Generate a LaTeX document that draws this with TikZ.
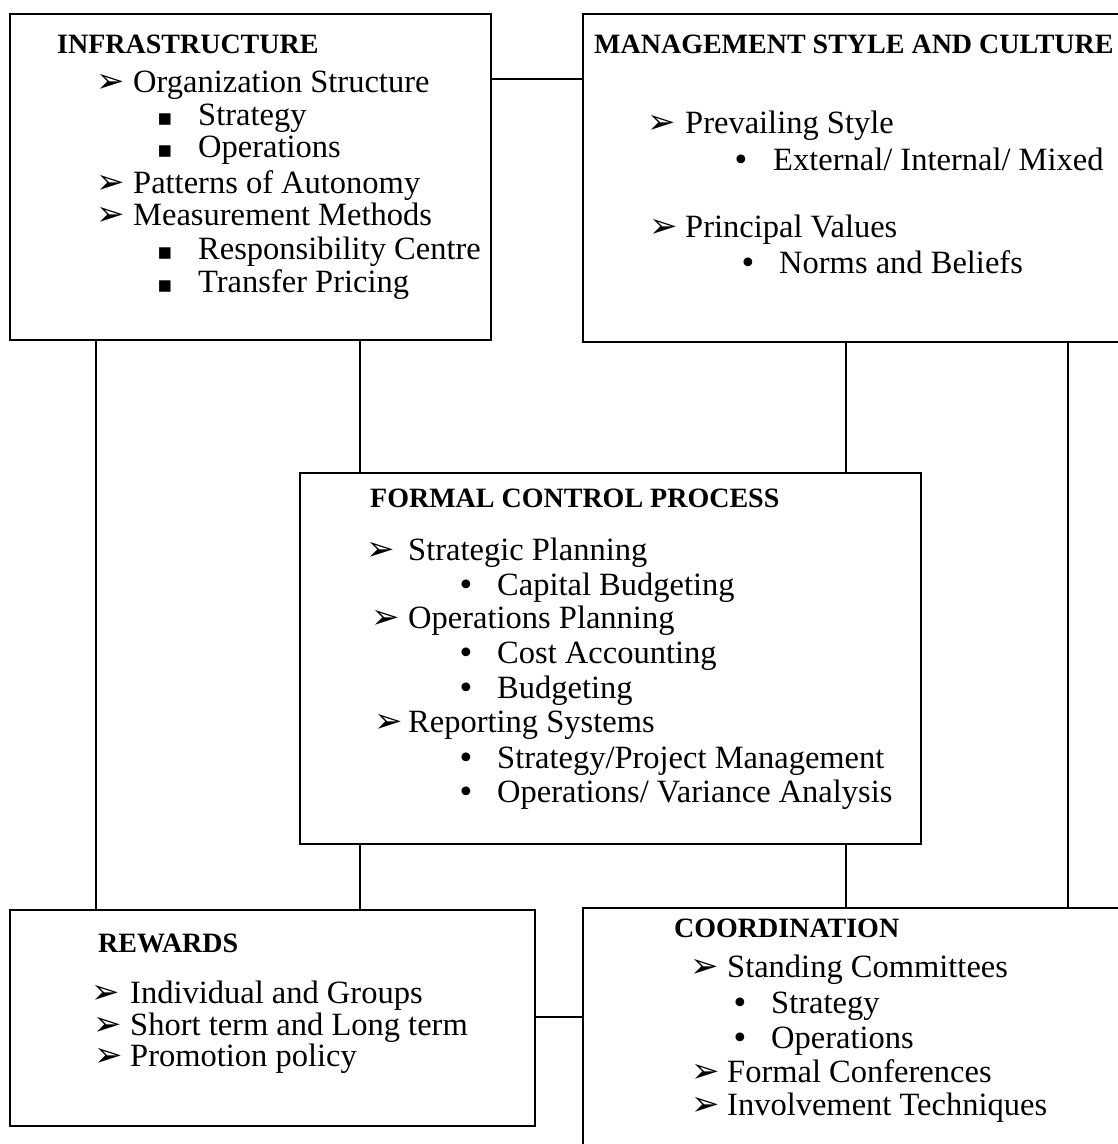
\documentclass[tikz,border=0pt]{standalone}
\usepackage{fontspec}
\newfontfamily\symfont{DejaVu Sans}
\newfontfamily\headfont{Liberation Serif}
\newfontfamily\fbserif{Liberation Serif}
\newcommand\bodyfont{\fbserif\fontsize{32.5}{36}\selectfont}
\newcommand\hdfont{\headfont\bfseries\fontsize{28}{30}\selectfont}
\newcommand\arr{{\symfont\fontsize{34}{34}\selectfont ➢}}
\newcommand\sqb{{\symfont\fontsize{23}{23}\selectfont ▪}}
\newcommand\dotb{{\symfont\fontsize{30}{30}\selectfont •}}
\tikzset{
  box/.style={draw, line width=1.8pt, anchor=north west, inner sep=0pt},
  conn/.style={line width=1.8pt},
  tx/.style={anchor=base west, inner sep=0pt, font=\bodyfont},
  hd/.style={anchor=base west, inner sep=0pt, font=\hdfont},
  mk/.style={anchor=base west, inner sep=0pt},
}
\newcommand\itm[6]{%
  \node[mk] (#1m) at (#2,#4) {#5};
  \node[tx] (#1) at (#3,#4) {#6};}
\begin{document}
\begin{tikzpicture}[x=1pt,y=-1pt]
\useasboundingbox (0,0) rectangle (1118,1144);
% boxes
\node[box, minimum width=481pt, minimum height=326pt] (infra) at (9,13) {};
\node[box, minimum width=548pt, minimum height=328pt] (mgmt) at (582,13) {};
\node[box, minimum width=621pt, minimum height=371pt] (formal) at (299,472) {};
\node[box, minimum width=525pt, minimum height=216pt] (rewards) at (9,909) {};
\node[box, minimum width=548pt, minimum height=250pt] (coord) at (582,907) {};
% connectors
\draw[conn] (infra.east |- 0,79) -- (mgmt.west |- 0,79);
\draw[conn] (infra.south -| 96,0) -- (rewards.north -| 96,0);
\draw[conn] (infra.south -| 360,0) -- (formal.north -| 360,0);
\draw[conn] (formal.south -| 360,0) -- (rewards.north -| 360,0);
\draw[conn] (mgmt.south -| 846,0) -- (formal.north -| 846,0);
\draw[conn] (formal.south -| 846,0) -- (coord.north -| 846,0);
\draw[conn] (mgmt.south -| 1068,0) -- (coord.north -| 1068,0);
\draw[conn] (rewards.east |- 0,1017) -- (coord.west |- 0,1017);
% infrastructure
\node[hd] (infrah) at (57,53) {INFRASTRUCTURE};
\itm{i1}{96}{133}{92}{\arr}{Organization Structure}
\itm{i2}{157}{198}{125}{\sqb}{Strategy}
\itm{i3}{157}{198}{157}{\sqb}{Operations}
\itm{i4}{96}{133}{193}{\arr}{Patterns of Autonomy}
\itm{i5}{96}{133}{225}{\arr}{Measurement Methods}
\itm{i6}{157}{198}{259}{\sqb}{Responsibility Centre}
\itm{i7}{157}{198}{292}{\sqb}{Transfer Pricing}
% management
\node[hd] (mgmth) at (594,53) {MANAGEMENT STYLE AND CULTURE};
\itm{m1}{647}{685}{133}{\arr}{Prevailing Style}
\itm{m2}{732}{773}{170}{\dotb}{External/ Internal/ Mixed}
\itm{m3}{649}{685}{237}{\arr}{Principal Values}
\itm{m4}{739}{779}{273}{\dotb}{Norms and Beliefs}
% formal control
\node[hd] (formalh) at (370,507) {FORMAL CONTROL PROCESS};
\itm{f1}{366}{408}{560}{\arr}{Strategic Planning}
\itm{f2}{457}{497}{595}{\dotb}{Capital Budgeting}
\itm{f3}{371}{408}{628}{\arr}{Operations Planning}
\itm{f4}{457}{497}{663}{\dotb}{Cost Accounting}
\itm{f5}{457}{497}{698}{\dotb}{Budgeting}
\itm{f6}{374}{408}{732}{\arr}{Reporting Systems}
\itm{f7}{457}{497}{768}{\dotb}{Strategy/Project Management}
\itm{f8}{457}{497}{802}{\dotb}{Operations/ Variance Analysis}
% rewards
\node[hd] (rewardsh) at (98,952) {REWARDS};
\itm{r1}{91}{130}{1003}{\arr}{Individual and Groups}
\itm{r2}{93}{130}{1035}{\arr}{Short term and Long term}
\itm{r3}{94}{130}{1066}{\arr}{Promotion policy}
% coordination
\node[hd] (coordh) at (674,937) {COORDINATION};
\itm{c1}{690}{727}{977}{\arr}{Standing Committees}
\itm{c2}{731}{771}{1013}{\dotb}{Strategy}
\itm{c3}{731}{771}{1048}{\dotb}{Operations}
\itm{c4}{691}{727}{1082}{\arr}{Formal Conferences}
\itm{c5}{691}{727}{1115}{\arr}{Involvement Techniques}
\end{tikzpicture}
\end{document}
